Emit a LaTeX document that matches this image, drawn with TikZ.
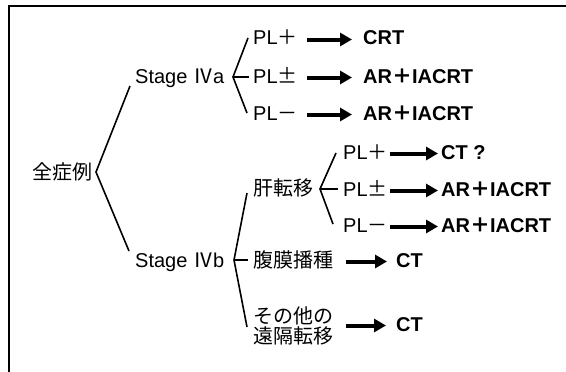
\documentclass[tikz,border=0pt]{standalone}
\usepackage{fontspec}
\setmainfont{Liberation Sans}
\newfontfamily\jpf{Noto Sans CJK JP}
\usetikzlibrary{arrows.meta}
\begin{document}
\begin{tikzpicture}[x=1pt,y=-1pt,
  lbl/.style={inner sep=0pt, anchor=base west, font=\fontsize{20}{22}\selectfont, text height=15pt, text depth=4pt},
  pl/.style={lbl, text width=44pt, align=left},
  res/.style={lbl, font=\fontsize{20}{22}\selectfont\bfseries},
  lbltwo/.style={inner sep=0pt, anchor=west, align=left, font=\fontsize{20}{20}\selectfont\jpf},
  brk/.style={line width=1.6pt},
  bigarrow/.style={line width=4pt, -{Triangle[length=12pt,width=13pt]}},
  frame/.style={line width=1.8pt}]
\useasboundingbox (0,0) rectangle (566,372);
\draw[frame] (9,372) -- (9,6) -- (566,6);

% nodes
\node[lbl] (all) at (32,179) {\jpf 全症例};
\node[lbl] (s4a) at (135,83) {Stage {\jpf Ⅳ}a};
\node[lbl] (s4b) at (135,267) {Stage {\jpf Ⅳ}b};

\node[pl] (pa1) at (253,45) {PL{\jpf ＋}};
\node[pl] (pa2) at (253,83) {PL{\jpf ±}};
\node[pl] (pa3) at (253,120) {PL{\jpf －}};
\node[res] (ra1) at (363,45) {CRT};
\node[res] (ra2) at (363,83) {AR{\jpf ＋}IACRT};
\node[res] (ra3) at (363,120) {AR{\jpf ＋}IACRT};

\node[lbl] (kan) at (253,195) {\jpf 肝転移};
\node[pl] (pb1) at (343,159) {PL{\jpf ＋}};
\node[pl] (pb2) at (343,196) {PL{\jpf ±}};
\node[pl] (pb3) at (343,232) {PL{\jpf －}};
\node[res] (rb1) at (441,159) {CT ?};
\node[res] (rb2) at (441,196) {AR{\jpf ＋}IACRT};
\node[res] (rb3) at (441,232) {AR{\jpf ＋}IACRT};

\node[lbl] (fuku) at (253,267) {\jpf 腹膜播種};
\node[res] (rc1) at (396,267) {CT};
\node[lbltwo] (sono) at (253,325.5) {その他の\\遠隔転移};
\node[res, anchor=west] (rc2) at (396,325.5) {CT};

% brackets
\coordinate (v0) at (96,172);  \coordinate (e0a) at (130,86);  \coordinate (e0b) at (129,251);
\coordinate (v1) at (233,77);  \coordinate (e1a) at (248,38);  \coordinate (e1b) at (247,113); \coordinate (t1) at (249,77);
\coordinate (v2) at (234,260); \coordinate (e2a) at (247,193); \coordinate (e2b) at (247,327); \coordinate (t2) at (248,260);
\coordinate (v3) at (320,189); \coordinate (e3a) at (336,153); \coordinate (e3b) at (333,224); \coordinate (t3) at (338,189);
\draw[brk] (e0a) -- (v0) -- (e0b);
\draw[brk] (e1a) -- (v1) -- (e1b); \draw[brk] (v1) -- (t1);
\draw[brk] (e2a) -- (v2) -- (e2b); \draw[brk] (v2) -- (t2);
\draw[brk] (e3a) -- (v3) -- (e3b); \draw[brk] (v3) -- (t3);

% arrows
\foreach \a/\b in {pa1/ra1,pa2/ra2,pa3/ra3}
  \draw[bigarrow, shorten <=10pt, shorten >=11pt] (\a.east) -- (\b.west);
\foreach \a/\b in {pb1/rb1,pb2/rb2,pb3/rb3}
  \draw[bigarrow, shorten <=3pt, shorten >=3pt] (\a.east) -- (\b.west);
\draw[bigarrow, shorten <=13pt, shorten >=9pt] (fuku.east) -- (rc1.west);
\draw[bigarrow, shorten <=13pt, shorten >=10pt] (sono.east) -- (rc2.west);
\end{tikzpicture}
\end{document}
